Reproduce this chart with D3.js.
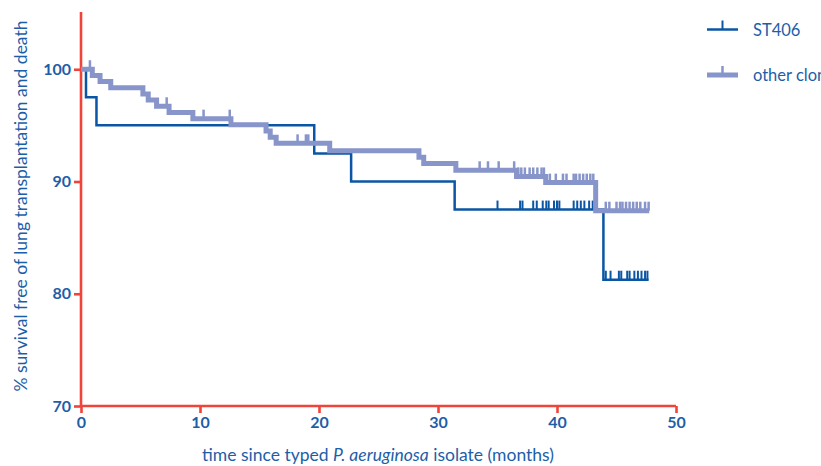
<!DOCTYPE html>
<html><head><meta charset="utf-8">
<script src="https://cdn.jsdelivr.net/npm/d3@7"></script>
<style>
html,body{margin:0;padding:0;background:#fff;overflow:hidden}
svg{display:block;font-family:Lato,"Open Sans",sans-serif}
</style></head>
<body><svg id="c" width="821" height="466"></svg>
<script>
// ---- data ----
const seriesNames = ["ST406", "other clones"];
// ST406: event times (months) and survival (%) after each event
const st406EventTimes = [0.42, 1.3, 19.6, 22.7, 31.4, 43.9];
const st406Survival   = [97.5, 95.0, 92.5, 90.0, 87.5, 81.25];
const st406Censored   = [35.0, 36.9, 37.1, 38.0, 38.3, 38.8, 39.1, 39.3, 39.75, 40.0, 40.2, 41.4, 41.7, 42.0, 42.3, 42.7, 43.0,
                         44.1, 44.5, 45.2, 45.4, 45.9, 46.1, 46.5, 46.8, 47.1, 47.4, 47.6];
const st406End = 47.7;
// other clones
const otherEventTimes = [0.95, 1.6, 2.5, 5.2, 5.65, 6.35, 7.4, 9.4, 12.6, 15.55, 15.9, 16.4, 20.9, 28.4, 28.8, 31.5, 36.6, 39.05, 43.25];
const otherSurvival   = [99.45, 98.9, 98.35, 97.8, 97.25, 96.7, 96.15, 95.6, 95.05, 94.5, 93.95, 93.4, 92.75, 92.15, 91.6, 91.0, 90.45, 89.9, 87.4];
const otherCensored   = [0.75, 7.2, 10.3, 12.5, 18.2, 18.9, 19.1, 33.5, 34.2, 35.1, 36.4, 36.75, 37.0, 37.3, 37.7, 38.0, 38.35, 38.7, 38.9,
                         39.4, 39.9, 40.5, 40.8, 41.4, 41.6, 41.9, 42.2, 42.5, 42.8, 43.05,
                         44.1, 44.4, 45.0, 45.3, 45.5, 45.8, 46.1, 46.4, 46.7, 47.0, 47.4, 47.7];
const otherEnd = 47.75;
const xTicks = [0, 10, 20, 30, 40, 50];
const yTicks = [70, 80, 90, 100];
const xLabelParts = [["time since typed ", false], ["P. aeruginosa", true], [" isolate (months)", false]];
const yLabel = "% survival free of lung transplantation and death";

// ---- drawing ----
const svg = d3.select("#c");
const axisRed = "#f0443a", darkBlue = "#0b56a4", lightBlue = "#8795cb", textBlue = "#1d5ea8";
const x = d3.scaleLinear().domain([0, 50]).range([81, 676]);
const y = d3.scaleLinear().domain([70, 105.1]).range([406, 12]);

function kmPoints(times, surv, end) {
  const pts = [[0, 100]];
  let s = 100;
  times.forEach((t, i) => { pts.push([t, s]); s = surv[i]; pts.push([t, s]); });
  pts.push([end, s]);
  return pts;
}
function survAt(times, surv, t) {
  let s = 100;
  times.forEach((tt, i) => { if (tt <= t) s = surv[i]; });
  return s;
}
const line = d3.line().x(d => x(d[0])).y(d => y(d[1]));

const series = [
  {name: seriesNames[0], times: st406EventTimes, surv: st406Survival, cens: st406Censored, end: st406End, color: darkBlue, w: 2.5, tw: 2, th: 9},
  {name: seriesNames[1], times: otherEventTimes, surv: otherSurvival, cens: otherCensored, end: otherEnd, color: lightBlue, w: 5, tw: 2.5, th: 9}
];

// axes
const gx = svg.append("g").attr("transform", `translate(0,${y(70)})`)
  .call(d3.axisBottom(x).tickValues(xTicks).tickSize(7).tickPadding(4).tickFormat(d3.format("d")));
const gy = svg.append("g").attr("transform", `translate(${x(0)},0)`)
  .call(d3.axisLeft(y).tickValues(yTicks).tickSize(7).tickPadding(3).tickFormat(d3.format("d")));
[gx, gy].forEach(g => {
  g.select(".domain").attr("stroke", axisRed).attr("stroke-width", 2.6);
  g.selectAll(".tick line").attr("stroke", axisRed).attr("stroke-width", 2.6);
  g.selectAll(".tick text").attr("fill", textBlue).attr("font-size", 16).attr("font-weight", "bold")
    .attr("font-family", "Lato, sans-serif");
});
gx.select(".domain").attr("d", `M${x(0)},0H${x(50)}`);
gy.select(".domain").attr("d", `M0,${y(105.1)}V${y(70)}`);

// curves
series.forEach(s => {
  const g = svg.append("g");
  g.append("path").datum(kmPoints(s.times, s.surv, s.end))
    .attr("d", line).attr("fill", "none").attr("stroke", s.color).attr("stroke-width", s.w)
    .attr("stroke-linejoin", "miter").attr("stroke-linecap", "butt");
  g.selectAll("line.cens").data(s.cens).join("line").attr("class", "cens")
    .attr("x1", d => x(d)).attr("x2", d => x(d))
    .attr("y1", d => y(survAt(s.times, s.surv, d)))
    .attr("y2", d => y(survAt(s.times, s.surv, d)) - s.th)
    .attr("stroke", s.color).attr("stroke-width", s.tw);
});

// legend
const leg = svg.append("g");
series.forEach((s, i) => {
  const ly = 29.5 + i * 45.5;
  leg.append("line").attr("x1", 707).attr("x2", 738).attr("y1", ly).attr("y2", ly)
    .attr("stroke", s.color).attr("stroke-width", s.w);
  leg.append("line").attr("x1", 722.5).attr("x2", 722.5).attr("y1", ly).attr("y2", ly - 9)
    .attr("stroke", s.color).attr("stroke-width", s.tw);
  leg.append("text").attr("x", 753).attr("y", ly + 6).attr("fill", textBlue)
    .attr("font-size", 16.5).text(s.name);
});

// axis labels
const xl = svg.append("text").attr("x", 378).attr("y", 461).attr("text-anchor", "middle")
  .attr("fill", textBlue).attr("font-size", 17.5);
xLabelParts.forEach(p => xl.append("tspan").attr("font-style", p[1] ? "italic" : "normal").text(p[0]));
svg.append("text").attr("transform", "translate(27,206) rotate(-90)").attr("text-anchor", "middle")
  .attr("fill", textBlue).attr("font-size", 17.5).text(yLabel);
</script></body></html>
